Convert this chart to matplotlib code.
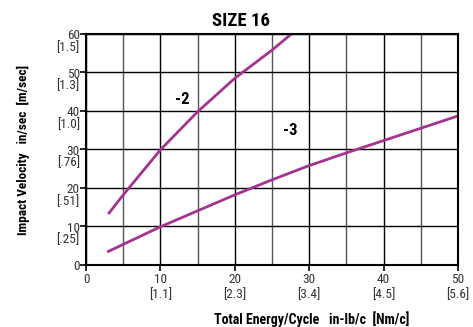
import matplotlib.pyplot as plt
from matplotlib import font_manager

# fonte condensada (a do original parece Frutiger/Univers Condensed)
instaladas = set(f.name for f in font_manager.fontManager.ttflist)
fonte = 'DejaVu Sans'
for nome in ['Liberation Sans Narrow', 'Roboto Condensed', 'Open Sans Condensed',
             'Barlow Semi Condensed', 'Encode Sans Condensed', 'Asap Condensed']:
    if nome in instaladas:
        fonte = nome
        break
plt.rcParams['font.family'] = [fonte, 'DejaVu Sans']

# curva -2
x2 = [3.1, 5, 10, 15, 20, 25, 27.6]
y2 = [13.5, 18.2, 29.9, 39.8, 48.5, 55.8, 60]
# curva -3
x3 = [3.0, 10, 20, 25, 30, 35, 40, 45, 50]
y3 = [3.5, 9.9, 18.2, 22.1, 25.8, 29.1, 32.3, 35.5, 38.7]

xticks = [0, 10, 20, 30, 40, 50]
xlabels = ['0', '10\n[1.1]', '20\n[2.3]', '30\n[3.4]', '40\n[4.5]', '50\n[5.6]']
yticks = [0, 10, 20, 30, 40, 50, 60]
ylabels = ['0', '10', '20', '30', '40', '50', '60']
ybrack = ['', '[.25]', '[.51]', '[.76]', '[1.0]', '[1.3]', '[1.5]']

cor = '#a3338f'
cinza = '#333333'

fig = plt.figure(figsize=(4.73, 3.27), dpi=100)
ax = fig.add_axes([0.182, 0.19, 0.786, 0.706])

ax.plot(x2, y2, color=cor, lw=2)
ax.plot(x3, y3, color=cor, lw=2)

ax.text(13, 43, '-2', fontsize=12, fontweight='bold', ha='center', va='center')
ax.text(27.5, 35, '-3', fontsize=12, fontweight='bold', ha='center', va='center')

ax.set_xlim(0, 50)
ax.set_ylim(0, 60)
ax.set_xticks(xticks)
ax.set_xticklabels(xlabels, fontsize=9.5, color=cinza, linespacing=1.2)
ax.set_yticks(yticks)
ax.set_yticklabels([])
for v, n, b in zip(yticks, ylabels, ybrack):
    ax.annotate(n, xy=(0, v), xycoords=('axes fraction', 'data'), xytext=(-4.5, -1.2),
                textcoords='offset points', ha='right', va='center', fontsize=9.5, color=cinza)
    ax.annotate(b, xy=(0, v), xycoords=('axes fraction', 'data'), xytext=(-4.5, -9.6),
                textcoords='offset points', ha='right', va='center', fontsize=9.5, color=cinza)
ax.set_xticks([5, 15, 25, 35, 45], minor=True)
ax.tick_params(which='minor', length=0)
ax.tick_params(which='major', length=4, width=1.2, direction='out', pad=2)

ax.grid(True, which='major', color='black', lw=1)
ax.grid(True, which='minor', axis='x', color='#555555', lw=1)
for s in ax.spines.values():
    s.set_linewidth(1.5)

ax.set_title('SIZE 16', fontsize=13.5, fontweight='bold', pad=6, x=0.417)
ax.set_xlabel('Total Energy/Cycle   in-lb/c  [Nm/c]', fontsize=10, fontweight='bold')
ax.xaxis.set_label_coords(0.606, -0.2)
ax.set_ylabel('Impact Velocity   in/sec  [m/sec]', fontsize=9.5, fontweight='bold')
ax.yaxis.set_label_coords(-0.15, 0.5)

fig.savefig('out.png')
